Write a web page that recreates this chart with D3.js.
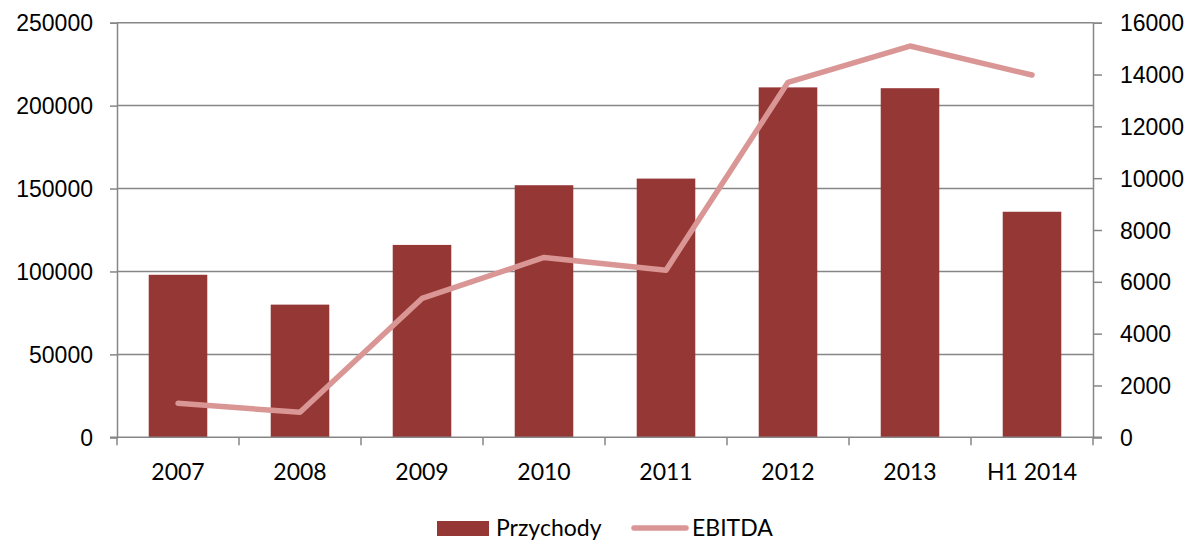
<!DOCTYPE html>
<html>
<head>
<meta charset="utf-8">
<script src="https://cdn.jsdelivr.net/npm/d3@7"></script>
<style>
    body { margin: 0; background: #fff; }
    svg { font-family: Lato, "Open Sans", sans-serif; }
    .axis text { font-size: 23px; fill: #000; }
    .axis path, .axis line { stroke: #868686; stroke-width: 1.5; }
    .grid line { stroke: #868686; stroke-width: 1.5; }
</style>
</head>
<body>
<div id="chart"></div>
<script>
const years = ['2007', '2008', '2009', '2010', '2011', '2012', '2013', 'H1 2014'];
const przychody = [98000, 80000, 116000, 152000, 156000, 211000, 210500, 136000];
const ebitda = [1310, 965, 5360, 6940, 6450, 13700, 15100, 13980];
const leftTicks = [0, 50000, 100000, 150000, 200000, 250000];
const rightTicks = [0, 2000, 4000, 6000, 8000, 10000, 12000, 14000, 16000];

const width = 1187, height = 540;
const margin = { top: 22.7, right: 94, bottom: 102.7, left: 117 };
const w = width - margin.left - margin.right;
const h = height - margin.top - margin.bottom;

const svg = d3.select('#chart').append('svg')
    .attr('width', width)
    .attr('height', height);

const g = svg.append('g')
    .attr('transform', `translate(${margin.left},${margin.top})`);

const x = d3.scaleBand().domain(years).range([0, w]).paddingInner(0.52).paddingOuter(0.26);
const xEdges = d3.scaleLinear().domain([0, years.length]).range([0, w]);
const yLeft = d3.scaleLinear().domain([0, 250000]).range([h, 0]);
const yRight = d3.scaleLinear().domain([0, 16000]).range([h, 0]);

// gridlines
g.append('g').attr('class', 'grid')
    .selectAll('line').data(leftTicks.slice(1)).enter()
    .append('line')
        .attr('x1', 0).attr('x2', w)
        .attr('y1', d => yLeft(d)).attr('y2', d => yLeft(d));

// bars
g.selectAll('rect.bar').data(przychody).enter()
    .append('rect')
        .attr('class', 'bar')
        .attr('x', (d, i) => x(years[i]))
        .attr('y', d => yLeft(d))
        .attr('width', x.bandwidth())
        .attr('height', d => h - yLeft(d))
        .attr('fill', '#953735');

// left axis
const leftAxis = g.append('g').attr('class', 'axis')
    .call(d3.axisLeft(yLeft).tickValues(leftTicks).tickSize(7).tickPadding(17).tickFormat(d3.format('d')));
leftAxis.selectAll('text').attr('dy', '0.35em');

// right axis
const rightAxis = g.append('g').attr('class', 'axis')
    .attr('transform', `translate(${w},0)`)
    .call(d3.axisRight(yRight).tickValues(rightTicks).tickSize(9).tickPadding(18).tickFormat(d3.format('d')));
rightAxis.selectAll('text').attr('dy', '0.35em');

// bottom axis: ticks at category edges, labels at centres
const bottom = g.append('g').attr('class', 'axis')
    .attr('transform', `translate(0,${h})`);
bottom.append('line').attr('x1', -7).attr('x2', w + 9).attr('y1', 0).attr('y2', 0);
bottom.selectAll('line.edge').data(d3.range(years.length + 1)).enter()
    .append('line')
        .attr('class', 'edge')
        .attr('x1', d => xEdges(d)).attr('x2', d => xEdges(d))
        .attr('y1', 0).attr('y2', 8);
bottom.selectAll('text').data(years).enter()
    .append('text')
        .attr('x', d => x(d) + x.bandwidth() / 2)
        .attr('y', 43)
        .attr('text-anchor', 'middle')
        .text(d => d);

// EBITDA line
const line = d3.line()
    .x((d, i) => x(years[i]) + x.bandwidth() / 2)
    .y(d => yRight(d));

g.append('path')
    .datum(ebitda)
    .attr('d', line)
    .attr('fill', 'none')
    .attr('stroke', '#D99694')
    .attr('stroke-width', 5.5)
    .attr('stroke-linecap', 'round')
    .attr('stroke-linejoin', 'round');

// legend
const legend = svg.append('g').attr('font-size', 23);
legend.append('rect')
    .attr('x', 437).attr('y', 521).attr('width', 52).attr('height', 15)
    .attr('fill', '#953735');
legend.append('text').attr('x', 496).attr('y', 536).text('Przychody');
legend.append('line')
    .attr('x1', 634).attr('x2', 686).attr('y1', 528).attr('y2', 528)
    .attr('stroke', '#D99694').attr('stroke-width', 5.5).attr('stroke-linecap', 'round');
legend.append('text').attr('x', 692).attr('y', 536).text('EBITDA');
</script>
</body>
</html>
